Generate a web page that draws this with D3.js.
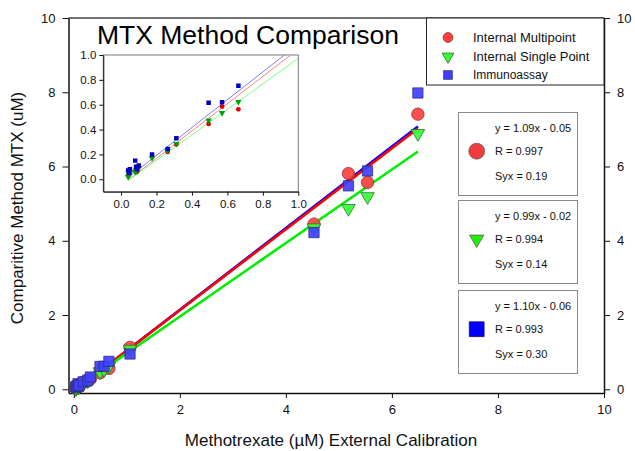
<!DOCTYPE html>
<html>
<head>
<meta charset="utf-8">
<script src="https://d3js.org/d3.v7.min.js"></script>
<style>
  body { margin: 0; background: #fff; }
  svg { display: block; font-family: "Liberation Sans", Arial, sans-serif; }
  .axis text { fill: #111; }
  .axis path, .axis line { stroke: #111; }
</style>
</head>
<body>
<div id="chart"></div>
<script>
// values
var xCalibration = [0.04, 0.045, 0.05, 0.08, 0.085, 0.09, 0.10, 0.175, 0.263, 0.312, 0.494, 0.57, 0.662, 1.06, 4.53, 5.18, 5.54, 6.49];
var yMultipoint   = [0.03, 0.04, 0.05, 0.07, 0.08, 0.06, 0.10, 0.183, 0.22, 0.28, 0.445, 0.585, 0.563, 1.13, 4.45, 5.81, 5.57, 7.41];
var ySinglePoint  = [0.02, 0.03, 0.05, 0.06, 0.07, 0.065, 0.09, 0.17, 0.23, 0.285, 0.475, 0.534, 0.623, 1.08, 4.35, 4.87, 5.19, 6.89];
var yImmunoassay  = [0.07, 0.05, 0.08, 0.15, 0.10, 0.08, 0.11, 0.20, 0.243, 0.33, 0.615, 0.62, 0.752, 0.95, 4.22, 5.48, 5.88, 7.98];

var seriesNames = ["Internal Multipoint", "Internal Single Point", "Immunoassay"];
var fitSlopes = [1.09, 0.99, 1.10];
var fitIntercepts = [-0.05, -0.02, -0.06];
var fitR = ["0.997", "0.994", "0.993"];
var fitSyx = ["0.19", "0.14", "0.30"];
// the inset lines are fitted to the low range only
var insetFitSlopes = [1.098, 1.025, 1.119];
var insetFitIntercepts = [-0.051, -0.052, -0.031];

var mainTicks = [0, 2, 4, 6, 8, 10];
var insetTicks = [0, 0.2, 0.4, 0.6, 0.8, 1.0];

var seriesY = [yMultipoint, ySinglePoint, yImmunoassay];
var lineColors = ["#ff0000", "#00ee00", "#0000ff"];
var insetLineColors = ["#ff8080", "#80ff80", "#8080ff"];
var fillColors = ["#ff4040", "#33ff33", "#4040ff"];
var strokeColors = ["#8a3030", "#2e6e2e", "#30307a"];
var insetColors = ["#e00000", "#00a000", "#0000c0"];

var svg = d3.select("#chart").append("svg").attr("width", 635).attr("height", 451);

// marker shapes
function markerPath(i, size) {
    if (i == 0) return d3.symbol().type(d3.symbolCircle).size(size)();
    if (i == 1) return d3.symbol().type(d3.symbolTriangle).size(size)();
    return d3.symbol().type(d3.symbolSquare).size(size)();
}
function markerTransform(i, x, y) {
    return "translate(" + x + "," + y + ")" + (i == 1 ? " rotate(180)" : "");
}

// ---------- main plot ----------
var x = d3.scaleLinear().domain([-0.1, 10]).range([68.5, 604]);
var y = d3.scaleLinear().domain([-0.1, 10]).range([393, 18]);

svg.append("line").attr("x1", 68.5).attr("x2", 604).attr("y1", 18).attr("y2", 18)
    .attr("stroke", "#444").attr("stroke-width", 1.5);

svg.append("g").attr("class", "axis").attr("transform", "translate(68.5,0)")
    .call(d3.axisLeft(y).tickValues(mainTicks).tickSize(6).tickSizeOuter(0).tickPadding(7))
    .attr("font-size", 13).attr("font-family", null);
svg.append("g").attr("class", "axis").attr("transform", "translate(604,0)")
    .call(d3.axisRight(y).tickValues(mainTicks).tickSize(6).tickSizeOuter(0).tickPadding(7))
    .attr("font-size", 13).attr("font-family", null);
svg.append("g").attr("class", "axis").attr("transform", "translate(0,393)")
    .call(d3.axisBottom(x).tickValues(mainTicks).tickSize(5).tickSizeOuter(0).tickPadding(7))
    .attr("font-size", 13).attr("font-family", null);
svg.selectAll(".axis path").attr("stroke-width", 1.5);

var xMin = d3.min(xCalibration), xMax = d3.max(xCalibration);

// blue first so the red line stays visible under it
var lineOrder = [2, 0, 1];
svg.append("g").selectAll("line").data(lineOrder).enter().append("line")
    .attr("x1", x(xMin)).attr("x2", x(xMax))
    .attr("y1", function(i) { return y(fitSlopes[i] * xMin + fitIntercepts[i]); })
    .attr("y2", function(i) { return y(fitSlopes[i] * xMax + fitIntercepts[i]); })
    .attr("stroke", function(i) { return lineColors[i]; })
    .attr("stroke-width", 2.6);

seriesY.forEach(function(vals, i) {
    svg.append("g").selectAll("path").data(vals).enter().append("path")
        .attr("d", markerPath(i, i == 0 ? 120 : (i == 1 ? 80 : 105)))
        .attr("transform", function(d, j) { return markerTransform(i, x(xCalibration[j]), y(d)); })
        .attr("fill", fillColors[i]).attr("fill-opacity", 0.92)
        .attr("stroke", strokeColors[i]).attr("stroke-width", 0.8);
});

// ---------- inset ----------
var xi = d3.scaleLinear().domain([-0.1, 1]).range([103.3, 298.3]);
var yi = d3.scaleLinear().domain([-0.1, 1]).range([191.7, 55]);

svg.append("rect").attr("x", 103.3).attr("y", 55).attr("width", 195).attr("height", 136.7)
    .attr("fill", "#fff").attr("stroke", "#777").attr("stroke-width", 1);

svg.append("clipPath").attr("id", "insetClip").append("rect")
    .attr("x", 103.3).attr("y", 55).attr("width", 195).attr("height", 136.7);

var inset = svg.append("g").attr("clip-path", "url(#insetClip)");
inset.selectAll("line").data(insetFitSlopes).enter().append("line")
    .attr("x1", xi(xMin)).attr("x2", xi(1.0))
    .attr("y1", function(d, i) { return yi(d * xMin + insetFitIntercepts[i]); })
    .attr("y2", function(d, i) { return yi(d * 1.0 + insetFitIntercepts[i]); })
    .attr("stroke", function(d, i) { return insetLineColors[i]; })
    .attr("stroke-width", 1);

seriesY.forEach(function(vals, i) {
    var pts = vals.map(function(d, j) { return [xCalibration[j], d]; })
        .filter(function(p) { return p[0] <= 1 && p[1] <= 1; });
    inset.append("g").selectAll("path").data(pts).enter().append("path")
        .attr("d", markerPath(i, i == 0 ? 18 : (i == 1 ? 18 : 20)))
        .attr("transform", function(p) { return markerTransform(i, xi(p[0]), yi(p[1])); })
        .attr("fill", insetColors[i]);
});

var fmt = d3.format(".1f");
svg.append("g").attr("class", "axis").attr("transform", "translate(103.3,0)")
    .call(d3.axisLeft(yi).tickValues(insetTicks).tickFormat(fmt).tickSize(4).tickSizeOuter(0).tickPadding(3))
    .attr("font-size", 11.5).attr("font-family", null);
svg.append("g").attr("class", "axis").attr("transform", "translate(0,191.7)")
    .call(d3.axisBottom(xi).tickValues(insetTicks).tickFormat(fmt).tickSize(4).tickSizeOuter(0).tickPadding(4))
    .attr("font-size", 11.5).attr("font-family", null);

// ---------- titles ----------
svg.append("text").attr("x", 97).attr("y", 44).attr("font-size", 26.5).attr("fill", "#000")
    .text("MTX Method Comparison");
svg.append("text").attr("x", 331).attr("y", 446).attr("text-anchor", "middle")
    .attr("font-size", 17).attr("fill", "#111")
    .text("Methotrexate (µM) External Calibration");
svg.append("text").attr("transform", "translate(23,208) rotate(-90)").attr("text-anchor", "middle")
    .attr("font-size", 17).attr("fill", "#111")
    .text("Comparitive Method MTX (uM)");

// ---------- legend ----------
var legend = svg.append("g");
legend.append("rect").attr("x", 426.5).attr("y", 18).attr("width", 177.5).attr("height", 67)
    .attr("fill", "#fff").attr("stroke", "#222").attr("stroke-width", 1);
var legendRows = [37.5, 56.5, 75];
seriesNames.forEach(function(name, i) {
    legend.append("path").attr("d", markerPath(i, i == 1 ? 60 : 75))
        .attr("transform", markerTransform(i, 448, legendRows[i]))
        .attr("fill", fillColors[i]).attr("stroke", strokeColors[i]).attr("stroke-width", 0.8);
    legend.append("text").attr("x", 473).attr("y", legendRows[i]).attr("dy", "0.35em")
        .attr("font-size", i == 2 ? 12 : 13).attr("fill", "#111").text(name);
});

// ---------- regression stat boxes ----------
var boxTops = [112.5, 200.5, 290.5];
boxTops.forEach(function(top, i) {
    var g = svg.append("g").attr("transform", "translate(458.5," + top + ")");
    g.append("rect").attr("width", 119).attr("height", 83)
        .attr("fill", "#fff").attr("stroke", "#8a8a8a").attr("stroke-width", 1);
    var b = fitIntercepts[i];
    var eq = "y = " + fitSlopes[i].toFixed(2) + "x " + (b < 0 ? "- " : "+ ") + Math.abs(b).toFixed(2);
    var lines = [eq, "R = " + fitR[i], "Syx = " + fitSyx[i]];
    g.selectAll("text").data(lines).enter().append("text")
        .attr("x", 36.5).attr("y", function(d, k) { return [15.5, 38.7, 63.4][k]; })
        .attr("dy", "0.35em").attr("font-size", 11).attr("fill", "#111")
        .text(function(d) { return d; });
    g.append("path").attr("d", markerPath(i, i == 0 ? 200 : (i == 1 ? 90 : 220)))
        .attr("transform", markerTransform(i, 18.2, 38.7))
        .attr("fill", i == 2 ? "#0000ff" : (i == 1 ? "#22ee00" : "#f03c3c"))
        .attr("stroke", i == 2 ? "#000060" : "#555").attr("stroke-width", 0.7);
});
</script>
</body>
</html>
